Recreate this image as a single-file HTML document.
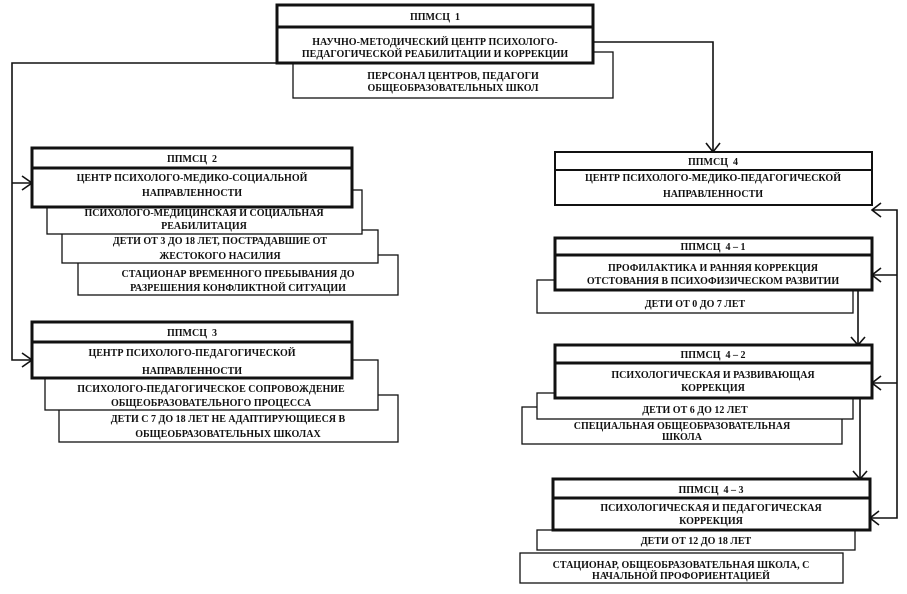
<!DOCTYPE html>
<html><head><meta charset="utf-8"><style>
html,body{margin:0;padding:0;background:#fff;}
svg{display:block;}
text{font-family:"Liberation Serif","DejaVu Serif",serif;font-size:10px;font-weight:bold;fill:#111;text-anchor:middle;}
.t{fill:#fff;stroke:#111;stroke-width:1.3;}
.k{fill:#fff;stroke:#111;stroke-width:3;}
.m{fill:#fff;stroke:#111;stroke-width:2;}
.l{fill:none;stroke:#111;stroke-width:1.6;}
</style></head><body>
<svg width="907" height="594" viewBox="0 0 907 594" xmlns="http://www.w3.org/2000/svg">
<!-- connectors -->
<polyline class="l" points="277,63 12,63 12,360 32,360"/>
<polyline class="l" points="12,183 32,183"/>
<polyline class="l" points="22,176 32,183 22,190"/>
<polyline class="l" points="22,353 32,360 22,367"/>
<polyline class="l" points="593,42 713,42 713,152"/>
<polyline class="l" points="706,143 713,152 720,143"/>
<polyline class="l" points="872,210 897,210 897,518 870,518"/>
<polyline class="l" points="872,275 897,275"/>
<polyline class="l" points="872,383 897,383"/>
<polyline class="l" points="881,203 872,210 881,217"/>
<polyline class="l" points="881,268 872,275 881,282"/>
<polyline class="l" points="881,376 872,383 881,390"/>
<polyline class="l" points="879,511 870,518 879,525"/>
<polyline class="l" points="858,290 858,345"/>
<polyline class="l" points="851,337 858,345 865,337"/>
<polyline class="l" points="860,398 860,479"/>
<polyline class="l" points="853,471 860,479 867,471"/>

<!-- Box 1 -->
<rect class="t" x="293" y="52" width="320" height="46"/>
<rect class="k" x="277" y="27" width="316" height="36"/>
<rect class="k" x="277" y="5" width="316" height="22"/>
<text x="435" y="20">ППМСЦ&#160;&#160;1</text>
<text x="435" y="45">НАУЧНО-МЕТОДИЧЕСКИЙ ЦЕНТР ПСИХОЛОГО-</text>
<text x="435" y="57">ПЕДАГОГИЧЕСКОЙ РЕАБИЛИТАЦИИ И КОРРЕКЦИИ</text>
<text x="453" y="79">ПЕРСОНАЛ ЦЕНТРОВ, ПЕДАГОГИ</text>
<text x="453" y="91">ОБЩЕОБРАЗОВАТЕЛЬНЫХ ШКОЛ</text>

<!-- Box 2 -->
<rect class="t" x="78" y="255" width="320" height="40"/>
<rect class="t" x="62" y="230" width="316" height="33"/>
<rect class="t" x="47" y="190" width="315" height="44"/>
<rect class="k" x="32" y="168" width="320" height="39"/>
<rect class="k" x="32" y="148" width="320" height="20"/>
<text x="192" y="162">ППМСЦ&#160;&#160;2</text>
<text x="192" y="181">ЦЕНТР ПСИХОЛОГО-МЕДИКО-СОЦИАЛЬНОЙ</text>
<text x="192" y="196">НАПРАВЛЕННОСТИ</text>
<text x="204" y="216">ПСИХОЛОГО-МЕДИЦИНСКАЯ И СОЦИАЛЬНАЯ</text>
<text x="204" y="229">РЕАБИЛИТАЦИЯ</text>
<text x="220" y="244">ДЕТИ ОТ 3 ДО 18 ЛЕТ, ПОСТРАДАВШИЕ ОТ</text>
<text x="220" y="259">ЖЕСТОКОГО НАСИЛИЯ</text>
<text x="238" y="277">СТАЦИОНАР ВРЕМЕННОГО ПРЕБЫВАНИЯ ДО</text>
<text x="238" y="291">РАЗРЕШЕНИЯ КОНФЛИКТНОЙ СИТУАЦИИ</text>

<!-- Box 3 -->
<rect class="t" x="59" y="395" width="339" height="47"/>
<rect class="t" x="45" y="360" width="333" height="50"/>
<rect class="k" x="32" y="342" width="320" height="36"/>
<rect class="k" x="32" y="322" width="320" height="20"/>
<text x="192" y="336">ППМСЦ&#160;&#160;3</text>
<text x="192" y="356">ЦЕНТР ПСИХОЛОГО-ПЕДАГОГИЧЕСКОЙ</text>
<text x="192" y="374">НАПРАВЛЕННОСТИ</text>
<text x="211" y="392">ПСИХОЛОГО-ПЕДАГОГИЧЕСКОЕ СОПРОВОЖДЕНИЕ</text>
<text x="211" y="406">ОБЩЕОБРАЗОВАТЕЛЬНОГО ПРОЦЕССА</text>
<text x="228" y="422">ДЕТИ С 7 ДО 18 ЛЕТ НЕ АДАПТИРУЮЩИЕСЯ В</text>
<text x="228" y="437">ОБЩЕОБРАЗОВАТЕЛЬНЫХ ШКОЛАХ</text>

<!-- Box 4 -->
<rect class="m" x="555" y="170" width="317" height="35"/>
<rect class="m" x="555" y="152" width="317" height="18"/>
<text x="713" y="165">ППМСЦ&#160;&#160;4</text>
<text x="713" y="181">ЦЕНТР ПСИХОЛОГО-МЕДИКО-ПЕДАГОГИЧЕСКОЙ</text>
<text x="713" y="197">НАПРАВЛЕННОСТИ</text>

<!-- Box 4-1 -->
<rect class="t" x="537" y="280" width="316" height="33"/>
<rect class="k" x="555" y="255" width="317" height="35"/>
<rect class="k" x="555" y="238" width="317" height="17"/>
<text x="713" y="250">ППМСЦ&#160;&#160;4 – 1</text>
<text x="713" y="271">ПРОФИЛАКТИКА И РАННЯЯ КОРРЕКЦИЯ</text>
<text x="713" y="284">ОТСТОВАНИЯ В ПСИХОФИЗИЧЕСКОМ РАЗВИТИИ</text>
<text x="695" y="307">ДЕТИ ОТ 0 ДО 7 ЛЕТ</text>

<!-- Box 4-2 -->
<rect class="t" x="522" y="407" width="320" height="37"/>
<rect class="t" x="537" y="393" width="316" height="26"/>
<rect class="k" x="555" y="363" width="317" height="35"/>
<rect class="k" x="555" y="345" width="317" height="18"/>
<text x="713" y="358">ППМСЦ&#160;&#160;4 – 2</text>
<text x="713" y="378">ПСИХОЛОГИЧЕСКАЯ И РАЗВИВАЮЩАЯ</text>
<text x="713" y="391">КОРРЕКЦИЯ</text>
<text x="695" y="413">ДЕТИ ОТ 6 ДО 12 ЛЕТ</text>
<text x="682" y="429">СПЕЦИАЛЬНАЯ ОБЩЕОБРАЗОВАТЕЛЬНАЯ</text>
<text x="682" y="440">ШКОЛА</text>

<!-- Box 4-3 -->
<rect class="t" x="520" y="553" width="323" height="30"/>
<rect class="t" x="537" y="530" width="318" height="20"/>
<rect class="k" x="553" y="498" width="317" height="32"/>
<rect class="k" x="553" y="479" width="317" height="19"/>
<text x="711" y="493">ППМСЦ&#160;&#160;4 – 3</text>
<text x="711" y="511">ПСИХОЛОГИЧЕСКАЯ И ПЕДАГОГИЧЕСКАЯ</text>
<text x="711" y="524">КОРРЕКЦИЯ</text>
<text x="696" y="544">ДЕТИ ОТ 12 ДО 18 ЛЕТ</text>
<text x="681" y="568">СТАЦИОНАР, ОБЩЕОБРАЗОВАТЕЛЬНАЯ ШКОЛА, С</text>
<text x="681" y="579">НАЧАЛЬНОЙ ПРОФОРИЕНТАЦИЕЙ</text>
</svg>
</body></html>
